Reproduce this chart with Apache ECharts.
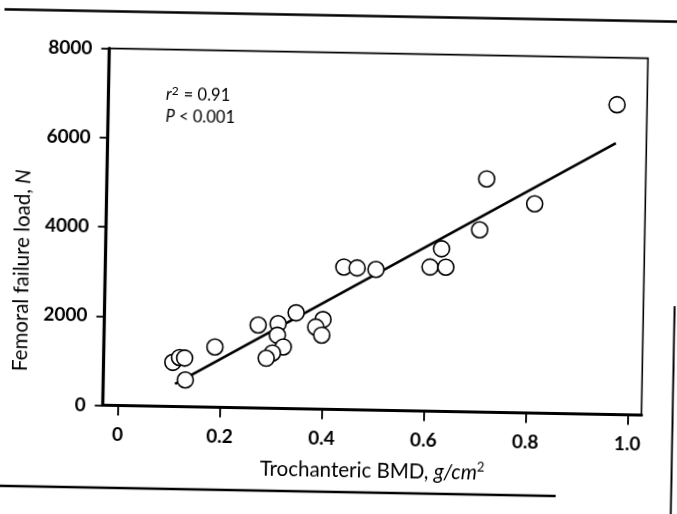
<!DOCTYPE html>
<html>
<head>
<meta charset="utf-8">
<script src="https://cdn.jsdelivr.net/npm/echarts@6/dist/echarts.min.js"></script>
<style>
  html, body { margin: 0; padding: 0; background: #fff; overflow: hidden; }
  /* the printed page sits slightly askew */
  #chart { width: 677px; height: 514px; transform: rotate(1.05deg); transform-origin: 50% 50%; }
</style>
</head>
<body>
<div id="chart"></div>
<script>
// Trochanteric bone mineral density (g/cm^2) of each specimen
const bmd = [0.106, 0.119, 0.129, 0.131, 0.188, 0.272, 0.311, 0.310, 0.346, 0.322,
             0.301, 0.289, 0.399, 0.385, 0.397, 0.438, 0.464, 0.501, 0.607, 0.638,
             0.629, 0.703, 0.715, 0.810, 0.968];
// Femoral failure load (N) of each specimen
const load = [990, 1100, 1090, 600, 1350, 1860, 1900, 1640, 2150, 1380,
              1240, 1120, 2010, 1840, 1660, 3195, 3180, 3155, 3230, 3235,
              3645, 4085, 5230, 4690, 6945];
// Regression line end points
const fitBmd = [0.111, 0.967];
const fitLoad = [505, 6085];
// Axis ticks
const xTicks = [0, 0.2, 0.4, 0.6, 0.8, 1.0];
const xTickLabels = ['0', '0.2', '0.4', '0.6', '0.8', '1.0'];
const yTicks = [0, 2000, 4000, 6000, 8000];
const yTickLabels = ['0', '2000', '4000', '6000', '8000'];

const FONT = 'Lato, "Open Sans", sans-serif';

const chart = echarts.init(document.getElementById('chart'), null, { renderer: 'canvas' });

const labelStyle = { color: '#000', fontFamily: FONT, fontWeight: 'bold', fontSize: 19 };

chart.setOption({
  animation: false,
  backgroundColor: '#fff',
  grid: {
    left: 105.5, right: 32.7, top: 52.6, bottom: 104.5,
    show: true, borderColor: '#000', borderWidth: 1.6, backgroundColor: 'transparent'
  },
  xAxis: {
    type: 'value',
    min: -0.03, max: 1.027,
    axisLine: { show: true, onZero: false, lineStyle: { color: '#000', width: 3.2 } },
    axisTick: { show: true, length: 10, customValues: xTicks, lineStyle: { color: '#000', width: 1.8 } },
    axisLabel: Object.assign({
      margin: 20,
      customValues: xTicks,
      formatter: v => xTickLabels[xTicks.indexOf(v)]
    }, labelStyle),
    splitLine: { show: false }
  },
  yAxis: {
    type: 'value',
    min: 0, max: 8000, interval: 2000,
    axisLine: { show: true, onZero: false, lineStyle: { color: '#000', width: 3.2 } },
    axisTick: { show: true, length: 8, lineStyle: { color: '#000', width: 1.8 } },
    axisLabel: Object.assign({
      margin: 17,
      formatter: v => yTickLabels[yTicks.indexOf(v)]
    }, labelStyle),
    splitLine: { show: false }
  },
  series: [
    {
      type: 'line',
      data: fitBmd.map((x, i) => [x, fitLoad[i]]),
      showSymbol: false,
      lineStyle: { color: '#000', width: 2.6 },
      z: 2,
      silent: true
    },
    {
      type: 'scatter',
      data: bmd.map((x, i) => [x, load[i]]),
      symbol: 'circle',
      symbolSize: 16,
      itemStyle: { color: '#fff', borderColor: '#000', borderWidth: 1.6, opacity: 1 },
      z: 3
    }
  ],
  graphic: [
    // regression statistics
    {
      type: 'text', x: 163, y: 98,
      style: {
        text: '{i|r}{sup|2}{n| = 0.91}',
        align: 'left', verticalAlign: 'middle',
        fill: '#000',
        rich: {
          i: { fontFamily: FONT, fontSize: 16.5, fontStyle: 'italic', fill: '#000' },
          n: { fontFamily: FONT, fontSize: 16.5, fill: '#000' },
          sup: { fontFamily: FONT, fontSize: 12, fill: '#000', padding: [0, 1, 8, 0] }
        }
      }
    },
    {
      type: 'text', x: 163, y: 120,
      style: {
        text: '{i|P}{n| < 0.001}',
        align: 'left', verticalAlign: 'middle',
        fill: '#000',
        rich: {
          i: { fontFamily: FONT, fontSize: 16.5, fontStyle: 'italic', fill: '#000' },
          n: { fontFamily: FONT, fontSize: 16.5, fill: '#000' }
        }
      }
    },
    // axis titles
    {
      type: 'text', x: 376, y: 470,
      style: {
        text: '{n|Trochanteric BMD, }{i|g/cm}{sup|2}',
        align: 'center', verticalAlign: 'middle',
        fill: '#000',
        rich: {
          n: { fontFamily: FONT, fontSize: 20.5, fill: '#000' },
          i: { fontFamily: FONT, fontSize: 20.5, fontStyle: 'italic', fill: '#000' },
          sup: { fontFamily: FONT, fontSize: 13, fill: '#000', padding: [0, 0, 10, 0] }
        }
      }
    },
    {
      type: 'text', x: 22, y: 276, rotation: Math.PI / 2,
      style: {
        text: '{n|Femoral failure load, }{i|N}',
        align: 'center', verticalAlign: 'middle',
        fill: '#000',
        rich: {
          n: { fontFamily: FONT, fontSize: 20.5, fill: '#000' },
          i: { fontFamily: FONT, fontSize: 20.5, fontStyle: 'italic', fill: '#000' }
        }
      }
    },
    // page rules
    { type: 'line', shape: { x1: -20, y1: 15.5, x2: 700, y2: 15.5 }, style: { stroke: '#000', lineWidth: 2.4 } },
    { type: 'line', shape: { x1: -20, y1: 492, x2: 560, y2: 492 }, style: { stroke: '#000', lineWidth: 2.4 } },
    { type: 'line', shape: { x1: 675.5, y1: 300, x2: 675.5, y2: 530 }, style: { stroke: '#000', lineWidth: 2 } }
  ]
});
</script>
</body>
</html>
